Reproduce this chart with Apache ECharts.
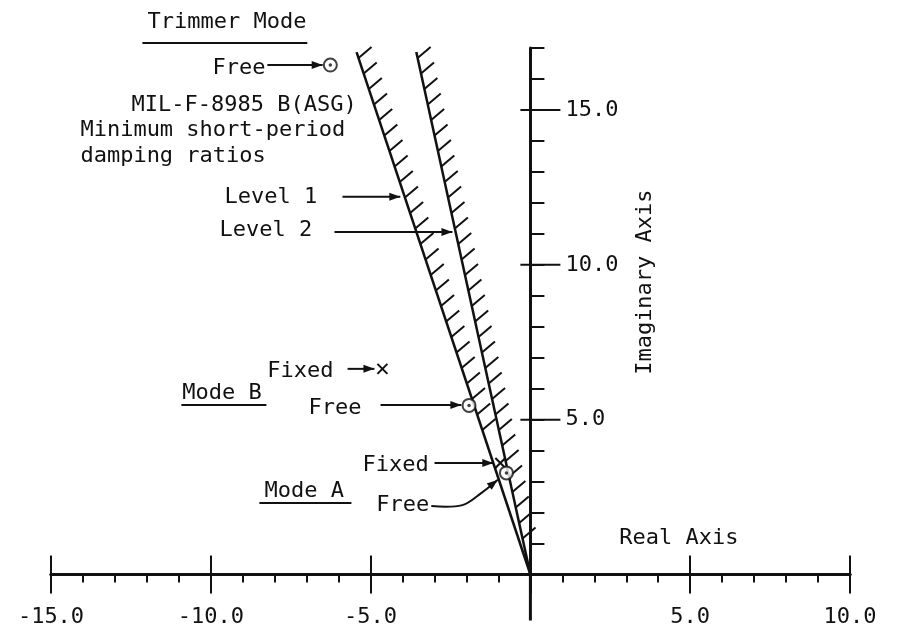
<!DOCTYPE html>
<html>
<head>
<meta charset="utf-8">
<script src="https://cdn.jsdelivr.net/npm/echarts@6/dist/echarts.min.js"></script>
<style>
  html, body { margin: 0; padding: 0; background: #fff; }
  #chart { width: 897px; height: 633px; }
</style>
</head>
<body>
<div id="chart"></div>
<script>
// ---- data -------------------------------------------------------------
// axis ranges (real / imaginary parts of the short-period roots)
const realRange = [-15, 10];
const imagRange = [0, 17];
const realTickValues = [-15, -10, -5, 5, 10];
const imagTickValues = [5, 10, 15];

// minimum short-period damping boundaries, from the origin to their upper end
const level1Boundary = [[0, 0], [-5.44, 16.87]];
const level2Boundary = [[0, 0], [-3.57, 16.87]];
// imaginary value where the hatching of each boundary stops
const hatchLowest = [4.2, 1.0];

// roots with the trimmer free (circles) and fixed (crosses)
const freeRoots = [[-6.26, 16.45], [-1.92, 5.46], [-0.75, 3.28]];
const fixedRoots = [[-4.63, 6.64], [-0.94, 3.60]];

// ---- annotations (anchored in axis units) ------------------------------
const notes = [
  { text: 'Trimmer Mode', at: [-11.98, 17.84] },
  { text: 'Free', at: [-9.95, 16.35] },
  { text: 'MIL-F-8985 B(ASG)', at: [-12.48, 15.16] },
  { text: 'Minimum short-period', at: [-14.08, 14.35] },
  { text: 'damping ratios', at: [-14.08, 13.51] },
  { text: 'Level 1', at: [-9.57, 12.19] },
  { text: 'Level 2', at: [-9.73, 11.12] },
  { text: 'Fixed', at: [-8.23, 6.56] },
  { text: 'Mode B', at: [-10.89, 5.86] },
  { text: 'Free', at: [-6.94, 5.38] },
  { text: 'Mode A', at: [-8.32, 2.70] },
  { text: 'Fixed', at: [-5.25, 3.54] },
  { text: 'Free', at: [-4.82, 2.24] },
  { text: 'Real Axis', at: [2.78, 1.18] },
  { text: 'Imaginary Axis', at: [3.60, 9.44], rotate: true }
];
const underlines = [
  [[-12.14, 17.16], [-6.98, 17.16]],
  [[-10.92, 5.47], [-8.26, 5.47]],
  [[-8.48, 2.31], [-5.60, 2.31]]
];
const arrows = [
  [[-8.23, 16.45], [-6.50, 16.45]],
  [[-5.88, 12.20], [-4.07, 12.20]],
  [[-6.13, 11.06], [-2.44, 11.06]],
  [[-5.72, 6.64], [-4.88, 6.64]],
  [[-4.69, 5.47], [-2.16, 5.47]],
  [[-3.00, 3.60], [-1.16, 3.60]],
  [[-3.10, 2.21], [-2.13, 2.24], [-1.55, 2.62], [-1.02, 3.06]]
];

// ---- drawing ------------------------------------------------------------
const FONT = '"DejaVu Sans Mono", "Liberation Mono", monospace';
const INK = '#111';
const chart = echarts.init(document.getElementById('chart'), null, { renderer: 'canvas' });

function fmt(v) { return v === 0 ? '' : v.toFixed(1); }

function arrowHead(a, b) {
  const dx = b[0] - a[0], dy = b[1] - a[1];
  const len = Math.hypot(dx, dy) || 1;
  const ux = dx / len, uy = dy / len;
  const L = 11, W = 4;
  const bx = b[0] - ux * L, by = b[1] - uy * L;
  return [b, [bx - uy * W, by + ux * W], [bx + uy * W, by - ux * W]];
}

function renderNotes(params, api) {
  const children = [];
  notes.forEach(n => {
    const p = api.coord(n.at);
    children.push({
      type: 'text', x: p[0], y: p[1], rotation: n.rotate ? Math.PI / 2 : 0,
      style: {
        text: n.text, font: '22px ' + FONT, fill: INK,
        align: n.rotate ? 'center' : 'left', verticalAlign: 'middle'
      }
    });
  });
  underlines.forEach(u => {
    const a = api.coord(u[0]), b = api.coord(u[1]);
    children.push({ type: 'line', shape: { x1: a[0], y1: a[1], x2: b[0], y2: b[1] },
      style: { stroke: INK, lineWidth: 2 } });
  });
  arrows.forEach(ar => {
    const pts = ar.map(p => api.coord(p));
    children.push({ type: 'polyline', shape: { points: pts, smooth: ar.length > 2 ? 0.35 : 0 },
      style: { stroke: INK, lineWidth: 2, fill: null } });
    children.push({ type: 'polygon', shape: { points: arrowHead(pts[pts.length - 2], pts[pts.length - 1]) },
      style: { fill: INK } });
  });
  // imaginary axis continues a little below the real axis
  const o = api.coord([0, 0]);
  children.push({ type: 'line', shape: { x1: o[0], y1: o[1], x2: o[0], y2: o[1] + 46 },
    style: { stroke: INK, lineWidth: 3 } });
  // major ticks of the imaginary axis cross it, labelled on the right
  imagTickValues.forEach(v => {
    const p = api.coord([0, v]);
    children.push({ type: 'line', shape: { x1: p[0] - 10, y1: p[1], x2: p[0] + 30, y2: p[1] },
      style: { stroke: INK, lineWidth: 2 } });
    children.push({ type: 'text', x: p[0] + 35, y: p[1],
      style: { text: fmt(v), font: '22px ' + FONT, fill: INK, align: 'left', verticalAlign: 'middle' } });
  });
  return { type: 'group', children };
}

const boundaries = [level1Boundary, level2Boundary];
function renderHatch(params, api) {
  const b = boundaries[params.dataIndex];
  const top = api.coord(b[1]);
  const ratio = b[1][0] / b[1][1];
  const lowY = hatchLowest[params.dataIndex];
  const low = api.coord([ratio * lowY, lowY]);
  const children = [];
  const step = 15.5;
  const dyTotal = low[1] - top[1];
  for (let d = 6; d <= dyTotal; d += step) {
    const t = d / dyTotal;
    const x = top[0] + (low[0] - top[0]) * t;
    const y = top[1] + d;
    children.push({ type: 'line', shape: { x1: x, y1: y, x2: x + 13, y2: y - 11 },
      style: { stroke: INK, lineWidth: 2 } });
  }
  return { type: 'group', children };
}

function renderCross(params, api) {
  const p = api.coord([api.value(0), api.value(1)]);
  const s = 5;
  return { type: 'group', children: [
    { type: 'line', shape: { x1: p[0] - s, y1: p[1] - s, x2: p[0] + s, y2: p[1] + s }, style: { stroke: INK, lineWidth: 2 } },
    { type: 'line', shape: { x1: p[0] - s, y1: p[1] + s, x2: p[0] + s, y2: p[1] - s }, style: { stroke: INK, lineWidth: 2 } }
  ] };
}

const axisLineStyle = { color: INK, width: 3 };
const tickStyle = { color: INK, width: 2 };

const option = {
  backgroundColor: '#fff',
  animation: false,
  grid: { left: 51, right: 47, top: 48, bottom: 58.5, containLabel: false },
  xAxis: [
    {
      type: 'value', position: 'bottom', min: realRange[0], max: realRange[1], interval: 5,
      axisLine: { show: true, onZero: true, lineStyle: axisLineStyle },
      axisTick: { show: true, length: 19, lineStyle: tickStyle },
      minorTick: { show: true, splitNumber: 5, length: 8, lineStyle: tickStyle },
      splitLine: { show: false },
      axisLabel: {
        margin: 32, color: INK, fontFamily: FONT, fontSize: 22,
        formatter: v => realTickValues.includes(v) ? fmt(v) : ''
      }
    },
    {
      type: 'value', position: 'bottom', min: realRange[0], max: realRange[1], interval: 5,
      axisLine: { show: true, onZero: true, lineStyle: axisLineStyle },
      axisTick: { show: true, inside: true, length: 19, lineStyle: tickStyle },
      splitLine: { show: false }, axisLabel: { show: false }
    }
  ],
  yAxis: [
    {
      type: 'value', position: 'left', min: imagRange[0], max: imagRange[1], interval: 1,
      axisLine: { show: true, onZero: true, lineStyle: axisLineStyle },
      axisTick: { show: true, inside: true, length: 14, lineStyle: tickStyle },
      splitLine: { show: false }, axisLabel: { show: false }
    }
  ],
  series: [
    {
      name: 'Level 1', type: 'line', data: level1Boundary, symbol: 'none',
      lineStyle: { color: INK, width: 2.5 }, silent: true
    },
    {
      name: 'Level 2', type: 'line', data: level2Boundary, symbol: 'none',
      lineStyle: { color: INK, width: 2.5 }, silent: true
    },
    {
      type: 'custom', data: [[0, 0], [1, 0]], renderItem: renderHatch, silent: true, clip: false
    },
    {
      name: 'Free', type: 'scatter', data: freeRoots, symbol: 'circle', symbolSize: 13,
      itemStyle: { color: '#fff', borderColor: INK, borderWidth: 2 }, silent: true, z: 5
    },
    {
      type: 'scatter', data: freeRoots, symbol: 'circle', symbolSize: 3.5,
      itemStyle: { color: INK }, silent: true, z: 6
    },
    {
      name: 'Fixed', type: 'custom', data: fixedRoots, renderItem: renderCross, silent: true, clip: false, z: 5
    },
    {
      type: 'custom', data: [[0, 0]], renderItem: renderNotes, silent: true, clip: false
    }
  ]
};
chart.setOption(option);
</script>
</body>
</html>
